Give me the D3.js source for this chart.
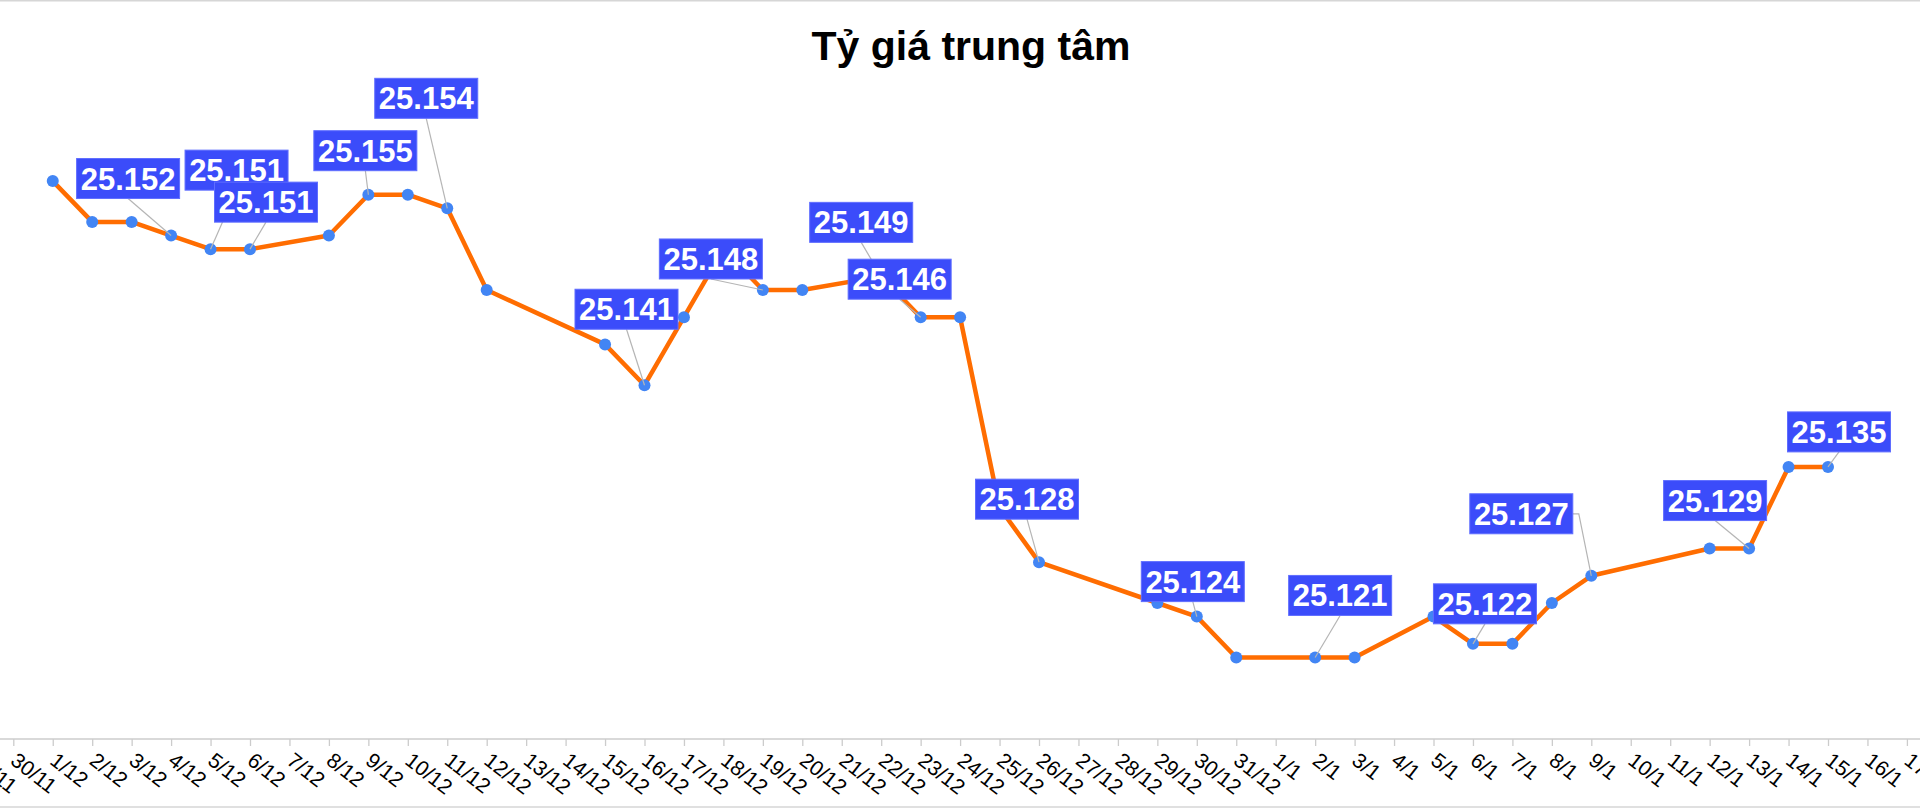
<!DOCTYPE html>
<html><head><meta charset="utf-8">
<script src="https://cdn.jsdelivr.net/npm/d3@7"></script>
<style>
html,body{margin:0;padding:0;background:#fff;}
svg{display:block;font-family:"Liberation Sans",Arial,sans-serif;}
</style></head>
<body>
<svg id="chart" width="1920" height="809"></svg>
<script>
// ---- data ----
const chartTitle = "Tỷ giá trung tâm";
const tickLabels = ["29/11","30/11","1/12","2/12","3/12","4/12","5/12","6/12","7/12","8/12","9/12","10/12","11/12","12/12","13/12","14/12","15/12","16/12","17/12","18/12","19/12","20/12","21/12","22/12","23/12","24/12","25/12","26/12","27/12","28/12","29/12","30/12","31/12","1/1","2/1","3/1","4/1","5/1","6/1","7/1","8/1","9/1","10/1","11/1","12/1","13/1","14/1","15/1","16/1","17/1"];
const seriesDates = ["1/12","2/12","3/12","4/12","5/12","6/12","8/12","9/12","10/12","11/12","12/12","15/12","16/12","17/12","18/12","19/12","20/12","22/12","23/12","24/12","25/12","26/12","29/12","30/12","31/12","2/1","3/1","5/1","6/1","7/1","8/1","9/1","12/1","13/1","14/1","15/1"];
const seriesValues = [25.156,25.153,25.153,25.152,25.151,25.151,25.152,25.155,25.155,25.154,25.148,25.144,25.141,25.146,25.151,25.148,25.148,25.149,25.146,25.146,25.132,25.128,25.125,25.124,25.121,25.121,25.121,25.124,25.122,25.122,25.125,25.127,25.129,25.129,25.135,25.135];
const annotDates = ["4/12","5/12","6/12","9/12","11/12","16/12","19/12","22/12","23/12","26/12","30/12","2/1","6/1","9/1","13/1","15/1"];

// ---- layout (label box placement relative to its point) ----
const annotOffsets = [[-43,-57],[26,-79],[16,-47],[-3,-44],[-21,-110],[-18,-76],[-52,-31],[-20,-54],[-21,-38],[-12,-63],[-4,-35],[25,-62],[12,-40],[-70,-62],[-34,-48],[11,-35]];
const annotAnchor = ["b","b","b","b","b","b","b","b","b","b","b","b","b","r","b","b"];

const W = 1920, H = 809;
const svg = d3.select("#chart");
const x = d3.scalePoint().domain(tickLabels).range([-26.15, -26.15 + 49*39.45]);
const y = d3.scaleLinear().domain([25.115, 25.16]).range([739.1, 126.65]);
const axisY = 739;

// borders
svg.append("line").attr("x1",0).attr("x2",W).attr("y1",0.75).attr("y2",0.75).attr("stroke","#d6d6d6").attr("stroke-width",1.5);
svg.append("line").attr("x1",0).attr("x2",W).attr("y1",807).attr("y2",807).attr("stroke","#d6d6d6").attr("stroke-width",1.5);

// title
svg.append("text").attr("x",971).attr("y",60).attr("text-anchor","middle")
  .attr("font-size",41).attr("font-weight","bold").attr("fill","#000").text(chartTitle);

// x axis
const ax = svg.append("g").attr("transform",`translate(0,${axisY})`)
  .call(d3.axisBottom(x).tickSize(7).tickSizeOuter(0).tickFormat(""));
ax.select(".domain").remove();
ax.selectAll(".tick line").attr("stroke","#cccccc").attr("stroke-width",1.3);
svg.append("line").attr("x1",0).attr("x2",W).attr("y1",axisY).attr("y2",axisY).attr("stroke","#cccccc").attr("stroke-width",1.5);

const ang = 38, fs = 21;
const lab = svg.append("g").attr("font-size",fs).attr("fill","#000");
tickLabels.forEach(t => {
  lab.append("text").attr("transform",`translate(${x(t)-4},${763}) rotate(${ang})`).text(t);
});

// series
const pts = seriesDates.map((d,i)=>({d, v: seriesValues[i]}));
svg.append("path").datum(pts)
  .attr("d", d3.line().x(p=>x(p.d)).y(p=>y(p.v)))
  .attr("fill","none").attr("stroke","#ff6d01").attr("stroke-width",4.5)
  .attr("stroke-linejoin","round").attr("stroke-linecap","round");
svg.append("g").selectAll("circle").data(pts).join("circle")
  .attr("cx",p=>x(p.d)).attr("cy",p=>y(p.v)).attr("r",6).attr("fill","#4285f4");

// annotations
const bw = 103, bh = 40;
const ann = annotDates.map((d,i)=>{
  const v = seriesValues[seriesDates.indexOf(d)];
  const px = x(d), py = y(v);
  return {d, v, px, py, cx: px+annotOffsets[i][0], cy: py+annotOffsets[i][1], side: annotAnchor[i]};
});
const lg = svg.append("g");
ann.forEach(a => {
  let pts2;
  if (a.side === "r") pts2 = [[a.cx+bw/2, a.cy],[a.cx+bw/2+6, a.cy],[a.px,a.py]];
  else pts2 = [[a.cx, a.cy+bh/2],[a.px,a.py]];
  lg.append("path").attr("d", d3.line()(pts2)).attr("fill","none").attr("stroke","#b5b5b5").attr("stroke-width",1.2);
});
const bg = svg.append("g");
ann.forEach(a => {
  const txt = d3.format(".3f")(a.v);
  bg.append("rect").attr("x",a.cx-bw/2).attr("y",a.cy-bh/2).attr("width",bw).attr("height",bh)
    .attr("fill","#3b4cfa").attr("stroke","#5f6dff").attr("stroke-width",1);
  bg.append("text").attr("x",a.cx).attr("y",a.cy+11).attr("text-anchor","middle")
    .attr("font-size",31).attr("font-weight","bold").attr("fill","#fff").text(txt);
});
</script>
</body></html>
